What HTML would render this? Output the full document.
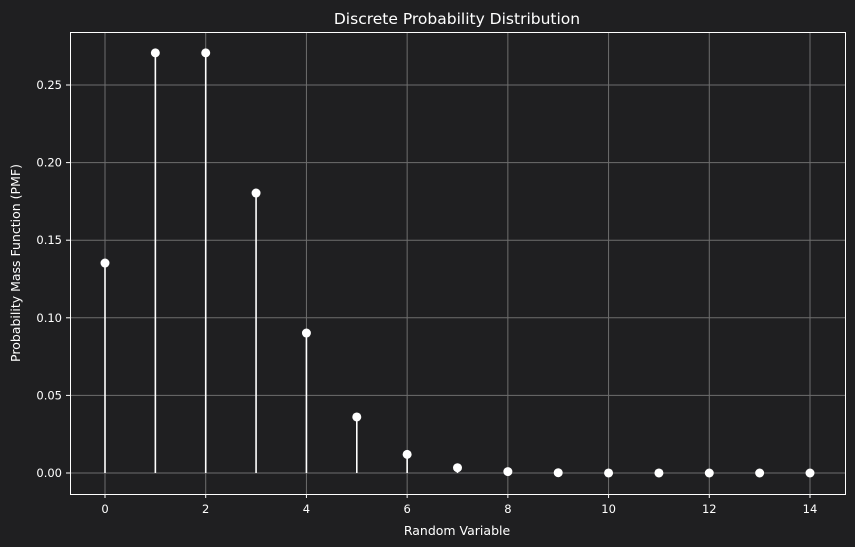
<!DOCTYPE html>
<html><head><meta charset="utf-8"><style>
html,body{margin:0;padding:0;background:#1f1f21;}
svg{display:block;font-family:"DejaVu Sans","Liberation Sans",sans-serif;}
</style></head><body>
<svg id="chart" width="855" height="547">
<rect width="855" height="547" fill="#1f1f21"/>
<text x="457" y="24" fill="#fff" font-size="15.5" text-anchor="middle">Discrete Probability Distribution</text>
<text x="457" y="535" fill="#fff" font-size="12.5" text-anchor="middle">Random Variable</text>
<text transform="translate(20,263) rotate(-90)" fill="#fff" font-size="12.5" text-anchor="middle">Probability Mass Function (PMF)</text>
<g id="grid"></g><g id="marks"></g>
<rect x="70.5" y="32.5" width="775" height="462" fill="none" stroke="#fff" stroke-width="1"/>
</svg>
<script>
const categories=[0,1,2,3,4,5,6,7,8,9,10,11,12,13,14];
const pmfValues=[0.1353,0.2707,0.2707,0.1804,0.0902,0.0361,0.0120,0.0034,0.0009,0.0002,0.00004,0.00001,0,0,0];
const xTicks=[0,2,4,6,8,10,12,14];
const yTicks=[0,0.05,0.10,0.15,0.20,0.25];
const yTickLabels=["0.00","0.05","0.10","0.15","0.20","0.25"];
const NS="http://www.w3.org/2000/svg";
function xs(v){return 105+v*(810-105)/14;}
function ys(v){return 473-v*1552;}
function mk(t,a,p){const e=document.createElementNS(NS,t);for(const k in a)e.setAttribute(k,a[k]);p.appendChild(e);return e;}
const grid=document.getElementById('grid'),marks=document.getElementById('marks'),svg=document.getElementById('chart');
xTicks.forEach(v=>{const x=xs(v);
const l=mk('line',{x1:x,x2:x,y1:32,y2:494,stroke:'#6e6e6e','stroke-width':1},grid);


const tk=mk('line',{x1:x,x2:x,y1:494,y2:498,stroke:'#fff'},grid);


const t=mk('text',{x:x,y:513,fill:'#fff','font-size':11.5,'text-anchor':'middle'},svg);t.textContent=v;

});
yTicks.forEach((v,i)=>{const y=ys(v);
const l=mk('line',{x1:70,x2:845,y1:y,y2:y,stroke:'#6e6e6e','stroke-width':1},grid);


const tk=mk('line',{x1:66,x2:70,y1:y,y2:y,stroke:'#fff'},grid);


const t=mk('text',{x:62,y:y+4,fill:'#fff','font-size':11.5,'text-anchor':'end'},svg);t.textContent=yTickLabels[i];

});
categories.forEach((c,i)=>{const x=xs(c),y=ys(pmfValues[i]);
const s=mk('line',{x1:x,x2:x,y1:ys(0),y2:y,stroke:'#fff','stroke-width':1.6},marks);


const p=mk('circle',{cx:x,cy:y,r:4.5,fill:'#fff'},marks);

});
</script>
</body></html>
